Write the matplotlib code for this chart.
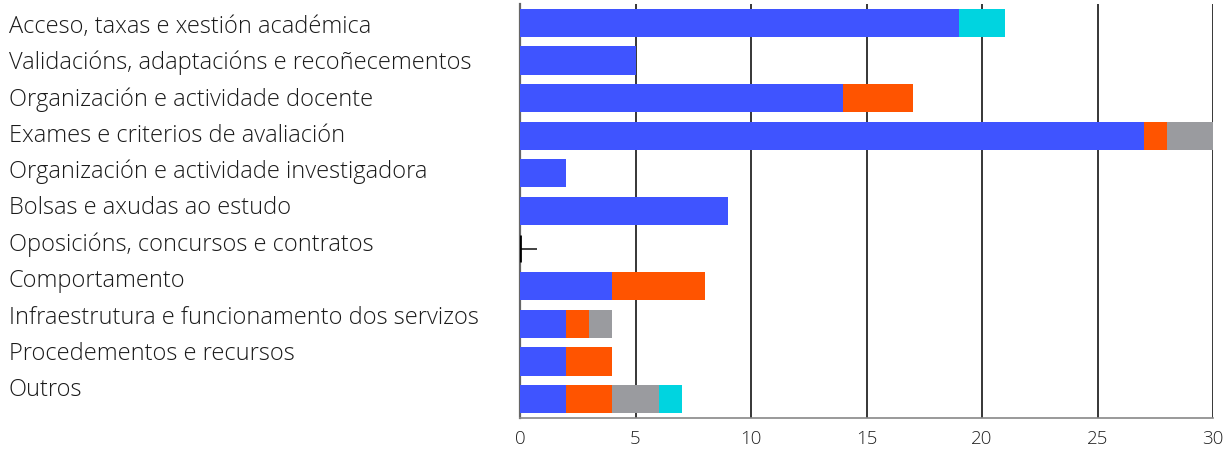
import matplotlib
matplotlib.use("Agg")
import matplotlib.pyplot as plt
import numpy as np

categories = [
    "Acceso, taxas e xestión académica",
    "Validacións, adaptacións e recoñecementos",
    "Organización e actividade docente",
    "Exames e criterios de avaliación",
    "Organización e actividade investigadora",
    "Bolsas e axudas ao estudo",
    "Oposicións, concursos e contratos",
    "Comportamento",
    "Infraestrutura e funcionamento dos servizos",
    "Procedementos e recursos",
    "Outros",
]
s_blue = [19, 5, 14, 27, 2, 9, 0, 4, 2, 2, 2]
s_orange = [0, 0, 3, 1, 0, 0, 0, 4, 1, 2, 2]
s_gray = [0, 0, 0, 2, 0, 0, 0, 0, 1, 0, 2]
s_cyan = [2, 0, 0, 0, 0, 0, 0, 0, 0, 0, 1]
xticks = [0, 5, 10, 15, 20, 25, 30]

colors = ["#3F54FF", "#FF5400", "#9A9B9F", "#00D4E0"]

plt.rcParams['font.family'] = ['Open Sans', 'DejaVu Sans']

W, H = 1224, 452
fig = plt.figure(figsize=(W / 100, H / 100), dpi=100)
ax = fig.add_axes([520/W, 1 - 419/H, (1213-520)/W, (419-5)/H])

y = np.arange(len(categories))
left = np.zeros(len(categories))
for vals, c in zip([s_blue, s_orange, s_gray, s_cyan], colors):
    v = np.array(vals, dtype=float)
    ax.barh(y, v, left=left, height=0.75, color=c, zorder=3, linewidth=0)
    left += v

# small marker on the zero-value row
for i, tot in enumerate(left):
    if tot == 0:
        ax.plot([0, 0.75], [i, i], color="#333333", lw=1.3, zorder=4, solid_capstyle='butt')
        ax.plot([0, 0], [i - 0.35, i + 0.35], color="black", lw=2.0, zorder=4, solid_capstyle='butt')

ax.set_xlim(0, 30)
ax.set_ylim(len(categories) - 0.5, -0.5)
ax.set_xticks(xticks)
ax.set_xticklabels([str(t) for t in xticks], fontsize=13.5, color="#222222",
                   fontweight='light')
ax.tick_params(axis='x', length=0, pad=8)
ax.set_yticks([])

for t in xticks[1:]:
    ax.axvline(t, color="black", lw=1.1, zorder=1)

for s in ["top", "right"]:
    ax.spines[s].set_visible(False)
ax.spines["left"].set_color("#666666")
ax.spines["left"].set_linewidth(1.6)
ax.spines["bottom"].set_color("#888888")
ax.spines["bottom"].set_linewidth(1.2)

# category labels: left-aligned column, slightly tighter spacing than the bars
label_top, label_step = 26.5, 36.4
for i, lab in enumerate(categories):
    fig.text(9/W, 1 - (label_top + i * label_step) / H, lab, ha='left', va='center',
             fontsize=17, color="#1a1a1a", fontweight='light')

fig.savefig("out.png", dpi=100)
